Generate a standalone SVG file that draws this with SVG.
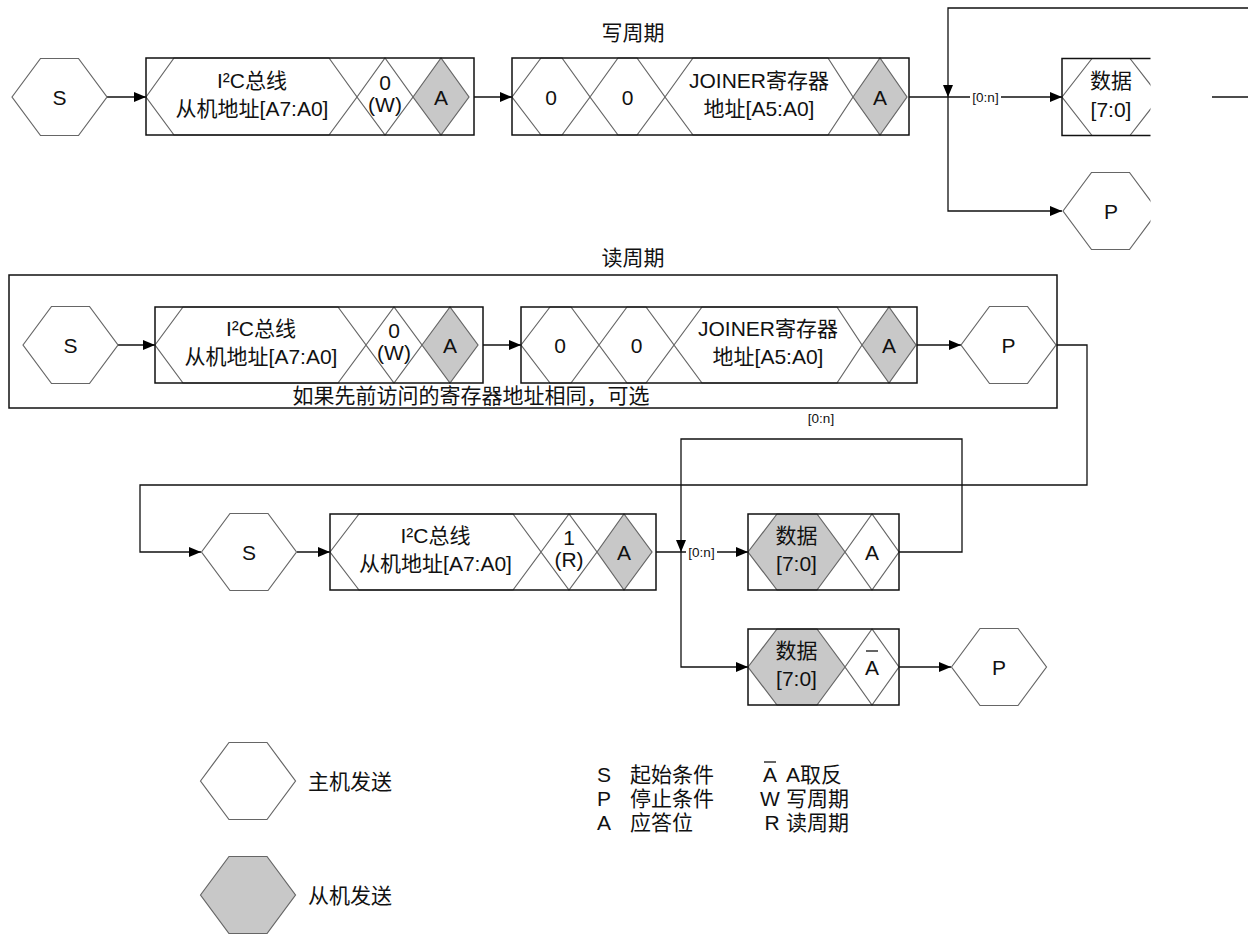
<svg xmlns="http://www.w3.org/2000/svg" width="1248" height="934" viewBox="0 0 1248 934">
<style>
text{font-family:"Liberation Sans","Noto Sans CJK SC",sans-serif;font-size:21px;fill:#111;text-anchor:middle}
.lbl{font-size:13.5px}
.st{text-anchor:start}
.fld{fill:#fff;stroke:#666;stroke-width:1.2}
.sl{fill:#c8c8c8;stroke:#666;stroke-width:1.2}
.box{fill:none;stroke:#111;stroke-width:1.5}
.con{fill:none;stroke:#111;stroke-width:1.3}
.wb{fill:#fff}
</style>
<defs>
<marker id="ah" markerUnits="userSpaceOnUse" markerWidth="12" markerHeight="10" refX="12" refY="5" orient="auto"><path d="M0,0L12,5L0,10z" fill="#000"/></marker>
<polygon id="hex" points="-47.5,0 -19,-38.5 19,-38.5 47.5,0 19,38.5 -19,38.5"/>
<clipPath id="cut"><rect x="0" y="0" width="1150.5" height="260"/></clipPath>
</defs>

<text x="633" y="40">写周期</text>
<text x="633" y="265">读周期</text>

<g id="connectors">
<path class="con" d="M107,97H146" marker-end="url(#ah)"/>
<path class="con" d="M474,97H512" marker-end="url(#ah)"/>
<path class="con" d="M909,97H1062" marker-end="url(#ah)"/>
<path class="con" d="M1248,8H948V97" marker-end="url(#ah)"/>
<path class="con" d="M948,97V211H1062" marker-end="url(#ah)"/>
<path class="con" d="M1212,97H1248"/>
<rect class="wb" x="970" y="89" width="31" height="16"/>
<text class="lbl" x="985.5" y="102">[0:n]</text>

<path class="con" d="M118,345H155" marker-end="url(#ah)"/>
<path class="con" d="M483,345H521" marker-end="url(#ah)"/>
<path class="con" d="M917,345H961" marker-end="url(#ah)"/>
<path class="con" d="M1056,345H1087V485H140V552H201" marker-end="url(#ah)"/>

<path class="con" d="M297,552H330" marker-end="url(#ah)"/>
<path class="con" d="M656,552H748" marker-end="url(#ah)"/>
<rect class="wb" x="686" y="544" width="31" height="16"/>
<text class="lbl" x="701.5" y="557">[0:n]</text>
<path class="con" d="M899,552H962V439H681V552" marker-end="url(#ah)"/>
<path class="con" d="M681,552V667H748" marker-end="url(#ah)"/>
<path class="con" d="M899,667H951" marker-end="url(#ah)"/>
<text class="lbl" x="821" y="423">[0:n]</text>
</g>

<g id="w_s">
<use href="#hex" x="59.5" y="97" class="fld"/>
<text x="59.5" y="104.5">S</text>
</g>
<g id="w_addr">
<polygon class="fld" points="146,97 174,58 329,58 357,97 329,135 174,135"/>
<polygon class="fld" points="357,97 385,58 413,97 385,135"/>
<polygon class="sl" points="413,97 441,58 469,97 441,135"/>
<rect class="box" x="146" y="58" width="328" height="77"/>
<text x="252" y="88">I²C总线</text>
<text x="252" y="116">从机地址[A7:A0]</text>
<text x="385" y="90">0</text>
<text x="385" y="112">(W)</text>
<text x="441" y="104.5">A</text>
</g>
<g id="w_reg">
<polygon class="fld" points="512,97 541,58 562,58 590,97 562,135 541,135"/>
<polygon class="fld" points="590,97 618,58 637,58 665,97 637,135 618,135"/>
<polygon class="fld" points="665,97 693,58 828,58 853,97 828,135 693,135"/>
<polygon class="sl" points="853,97 880,58 907,97 880,135"/>
<rect class="box" x="512" y="58" width="397" height="77"/>
<text x="551" y="104.5">0</text>
<text x="627.5" y="104.5">0</text>
<text x="759" y="88">JOINER寄存器</text>
<text x="759" y="116">地址[A5:A0]</text>
<text x="880" y="104.5">A</text>
</g>
<g id="w_data" clip-path="url(#cut)">
<polygon class="fld" points="1062,97 1092,58.5 1130,58.5 1160,97 1130,135.5 1092,135.5"/>
<path class="box" d="M1160,58.5H1062V135.5H1160"/>
<text x="1111" y="88">数据</text>
<text x="1111" y="117">[7:0]</text>
</g>
<g id="w_p" clip-path="url(#cut)">
<use href="#hex" x="1110.5" y="211" class="fld"/>
<text x="1111" y="218.5">P</text>
</g>

<g id="r_frame">
<rect class="box" x="9" y="275" width="1048" height="133"/>
<text x="471" y="403">如果先前访问的寄存器地址相同，可选</text>
</g>
<g id="r_s">
<use href="#hex" x="70.5" y="345" class="fld"/>
<text x="70.5" y="352.5">S</text>
</g>
<g id="r_addr">
<polygon class="fld" points="155,345 183,307 338,307 366,345 338,383 183,383"/>
<polygon class="fld" points="366,345 394,307 422,345 394,383"/>
<polygon class="sl" points="422,345 450,307 478,345 450,383"/>
<rect class="box" x="155" y="307" width="328" height="76"/>
<text x="261" y="336">I²C总线</text>
<text x="261" y="364">从机地址[A7:A0]</text>
<text x="394" y="338">0</text>
<text x="394" y="360">(W)</text>
<text x="450" y="352.5">A</text>
</g>
<g id="r_reg">
<polygon class="fld" points="521,345 550,307 571,307 599,345 571,383 550,383"/>
<polygon class="fld" points="599,345 627,307 646,307 674,345 646,383 627,383"/>
<polygon class="fld" points="674,345 702,307 837,307 862,345 837,383 702,383"/>
<polygon class="sl" points="862,345 889,307 916,345 889,383"/>
<rect class="box" x="521" y="307" width="396" height="76"/>
<text x="560" y="352.5">0</text>
<text x="636.5" y="352.5">0</text>
<text x="768" y="336">JOINER寄存器</text>
<text x="768" y="364">地址[A5:A0]</text>
<text x="889" y="352.5">A</text>
</g>
<g id="r_p">
<use href="#hex" x="1008.5" y="345" class="fld"/>
<text x="1008.5" y="352.5">P</text>
</g>

<g id="r2_s">
<use href="#hex" x="249" y="552" class="fld"/>
<text x="249" y="559.5">S</text>
</g>
<g id="r2_addr">
<polygon class="fld" points="330,552 359,514 513,514 541,552 513,590 359,590"/>
<polygon class="fld" points="541,552 569,514 597,552 569,590"/>
<polygon class="sl" points="597,552 624,514 652,552 624,590"/>
<rect class="box" x="330" y="514" width="326" height="76"/>
<text x="435.5" y="543">I²C总线</text>
<text x="435.5" y="571">从机地址[A7:A0]</text>
<text x="569" y="545">1</text>
<text x="569" y="567">(R)</text>
<text x="624" y="559.5">A</text>
</g>
<g id="r2_data">
<polygon class="sl" points="748,552 777,514 817,514 845,552 817,590 777,590"/>
<polygon class="fld" points="845,552 872,514 899,552 872,590"/>
<rect class="box" x="748" y="514" width="151" height="76"/>
<text x="796.5" y="543">数据</text>
<text x="796.5" y="571">[7:0]</text>
<text x="872" y="559.5">A</text>
</g>
<g id="r2_data_last">
<polygon class="sl" points="748,667 777,629 817,629 845,667 817,705 777,705"/>
<polygon class="fld" points="845,667 872,629 899,667 872,705"/>
<rect class="box" x="748" y="629" width="151" height="76"/>
<text x="796.5" y="658">数据</text>
<text x="796.5" y="686">[7:0]</text>
<text x="872" y="674.5">A</text>
<line x1="866" y1="651" x2="878" y2="651" stroke="#111" stroke-width="1.3"/>
</g>
<g id="r2_p">
<use href="#hex" x="999" y="667" class="fld"/>
<text x="999" y="674.5">P</text>
</g>

<g id="legend_master">
<use href="#hex" x="248" y="781" class="fld"/>
<text class="st" x="308" y="789">主机发送</text>
</g>
<g id="legend_slave">
<use href="#hex" x="248" y="895" class="sl"/>
<text class="st" x="308" y="903">从机发送</text>
</g>
<g id="legend_abbr">
<text x="604" y="782">S</text>
<text class="st" x="630" y="782">起始条件</text>
<text x="604" y="806">P</text>
<text class="st" x="630" y="806">停止条件</text>
<text x="604" y="830">A</text>
<text class="st" x="630" y="830">应答位</text>
<text x="770" y="782">A</text>
<line x1="764" y1="762" x2="776" y2="762" stroke="#111" stroke-width="1.3"/>
<text class="st" x="786" y="782">A取反</text>
<text x="770" y="806">W</text>
<text class="st" x="786" y="806">写周期</text>
<text x="772" y="830">R</text>
<text class="st" x="786" y="830">读周期</text>
</g>
</svg>
